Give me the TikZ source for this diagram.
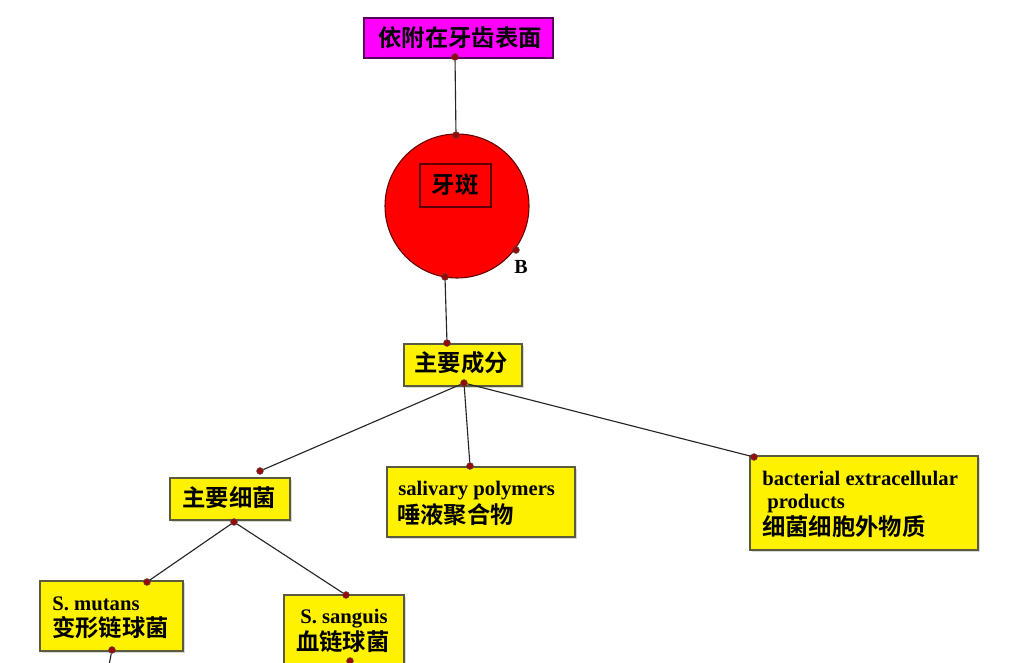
\documentclass[tikz,border=0pt]{standalone}
\usepackage{fontspec}
\setmainfont{Liberation Serif}
\newfontfamily\cjk{Noto Sans CJK SC}[BoldFont={Noto Sans CJK SC Bold}]
\usetikzlibrary{shadows}
\definecolor{boxline}{RGB}{90,90,60}
\definecolor{dotred}{RGB}{150,10,10}
\definecolor{magfill}{RGB}{255,0,255}
\begin{document}
\begin{tikzpicture}[x=0.75pt,y=-0.75pt,
  ybox/.style={rectangle,draw=boxline,fill=yellow,line width=1.1pt,inner sep=0pt,
    drop shadow={shadow xshift=1.2pt,shadow yshift=-1.2pt,fill=black!25,opacity=0.6}},
  mbox/.style={rectangle,draw={rgb,255:red,90;green,0;blue,90},fill=magfill,line width=1.1pt,inner sep=0pt},
  dotn/.style={circle,draw=black!70,fill=dotred,inner sep=0pt,minimum size=5.2pt,line width=0.3pt},
  conn/.style={draw=black!85,line width=0.85pt},
  cj/.style={font=\cjk\bfseries\fontsize{17.5pt}{20pt}\selectfont,inner sep=0pt},
  lt/.style={font=\bfseries\fontsize{15.5pt}{18pt}\selectfont,inner sep=0pt,anchor=base west}]
\useasboundingbox (0,0) rectangle (1017,663);
\fill[white] (0,0) rectangle (1017,663);

% boxes
\node[mbox,minimum width=141.75pt,minimum height=30pt] (top) at (458.5,38) {};
\node[circle,draw={rgb,255:red,100;green,0;blue,0},fill=red,line width=0.8pt,minimum size=108pt,inner sep=0pt] (plaque) at (457,206) {};
\node[rectangle,draw={rgb,255:red,90;green,0;blue,0},line width=0.9pt,minimum width=53.25pt,minimum height=32.25pt,inner sep=0pt] (inner) at (455.5,185.5) {};
\node[ybox,minimum width=88.5pt,minimum height=31.5pt] (comp) at (463,365) {};
\node[ybox,minimum width=90pt,minimum height=31.5pt] (bact) at (230,499) {};
\node[ybox,minimum width=141pt,minimum height=52.5pt] (saliv) at (481,502) {};
\node[ybox,minimum width=171pt,minimum height=70.5pt] (extra) at (864,503) {};
\node[ybox,minimum width=107.25pt,minimum height=52.5pt] (mutans) at (111.5,616) {};
\node[ybox,minimum width=90pt,minimum height=56.25pt] (sanguis) at (344,632.5) {};

% texts
\node[cj] (ttop) at (460,38) {依附在牙齿表面};
\node[cj] (tplaque) at (455,185) {牙斑};
\node[cj] (tcomp) at (461,363) {主要成分};
\node[cj] (tbact) at (229,498) {主要细菌};
\node[lt] (ts1) at (398,495) {salivary polymers};
\node[cj,anchor=base west] (ts2) at (397,523) {唾液聚合物};
\node[lt] (te1) at (762,485) {bacterial extracellular};
\node[lt] (te2) at (767,508) {products};
\node[cj,anchor=base west] (te3) at (762,535) {细菌细胞外物质};
\node[lt] (tm1) at (52,610) {S. mutans};
\node[cj,anchor=base west] (tm2) at (52,636) {变形链球菌};
\node[lt] (tg1) at (300,623) {S. sanguis};
\node[cj,anchor=base west] (tg2) at (296,650) {血链球菌};
\node[font=\bfseries\fontsize{15pt}{17pt}\selectfont,inner sep=0pt] (lB) at (521,267) {B};

% connectors
\coordinate (c12) at (108,670);
\node[dotn] (d1) at (455,57) {};
\node[dotn] (d2) at (456,135) {};
\node[dotn] (dB) at (516,250) {};
\node[dotn] (d3) at (445,277) {};
\node[dotn] (d4) at (447,343) {};
\node[dotn] (d5) at (464,383) {};
\node[dotn] (d6) at (260,471) {};
\node[dotn] (d7) at (470,466) {};
\node[dotn] (d8) at (754,457) {};
\node[dotn] (d9) at (234,522) {};
\node[dotn] (d10) at (147,582) {};
\node[dotn] (d11) at (346,595) {};
\node[dotn] (d12) at (112,650) {};
\node[dotn] (d13) at (350,661) {};
\draw[conn] (d1) -- (d2);
\draw[conn] (d3) -- (d4);
\draw[conn] (d5) -- (d6);
\draw[conn] (d5) -- (d7);
\draw[conn] (d5) -- (d8);
\draw[conn] (d9) -- (d10);
\draw[conn] (d9) -- (d11);
\draw[conn] (d12) -- (c12);
\end{tikzpicture}
\end{document}
